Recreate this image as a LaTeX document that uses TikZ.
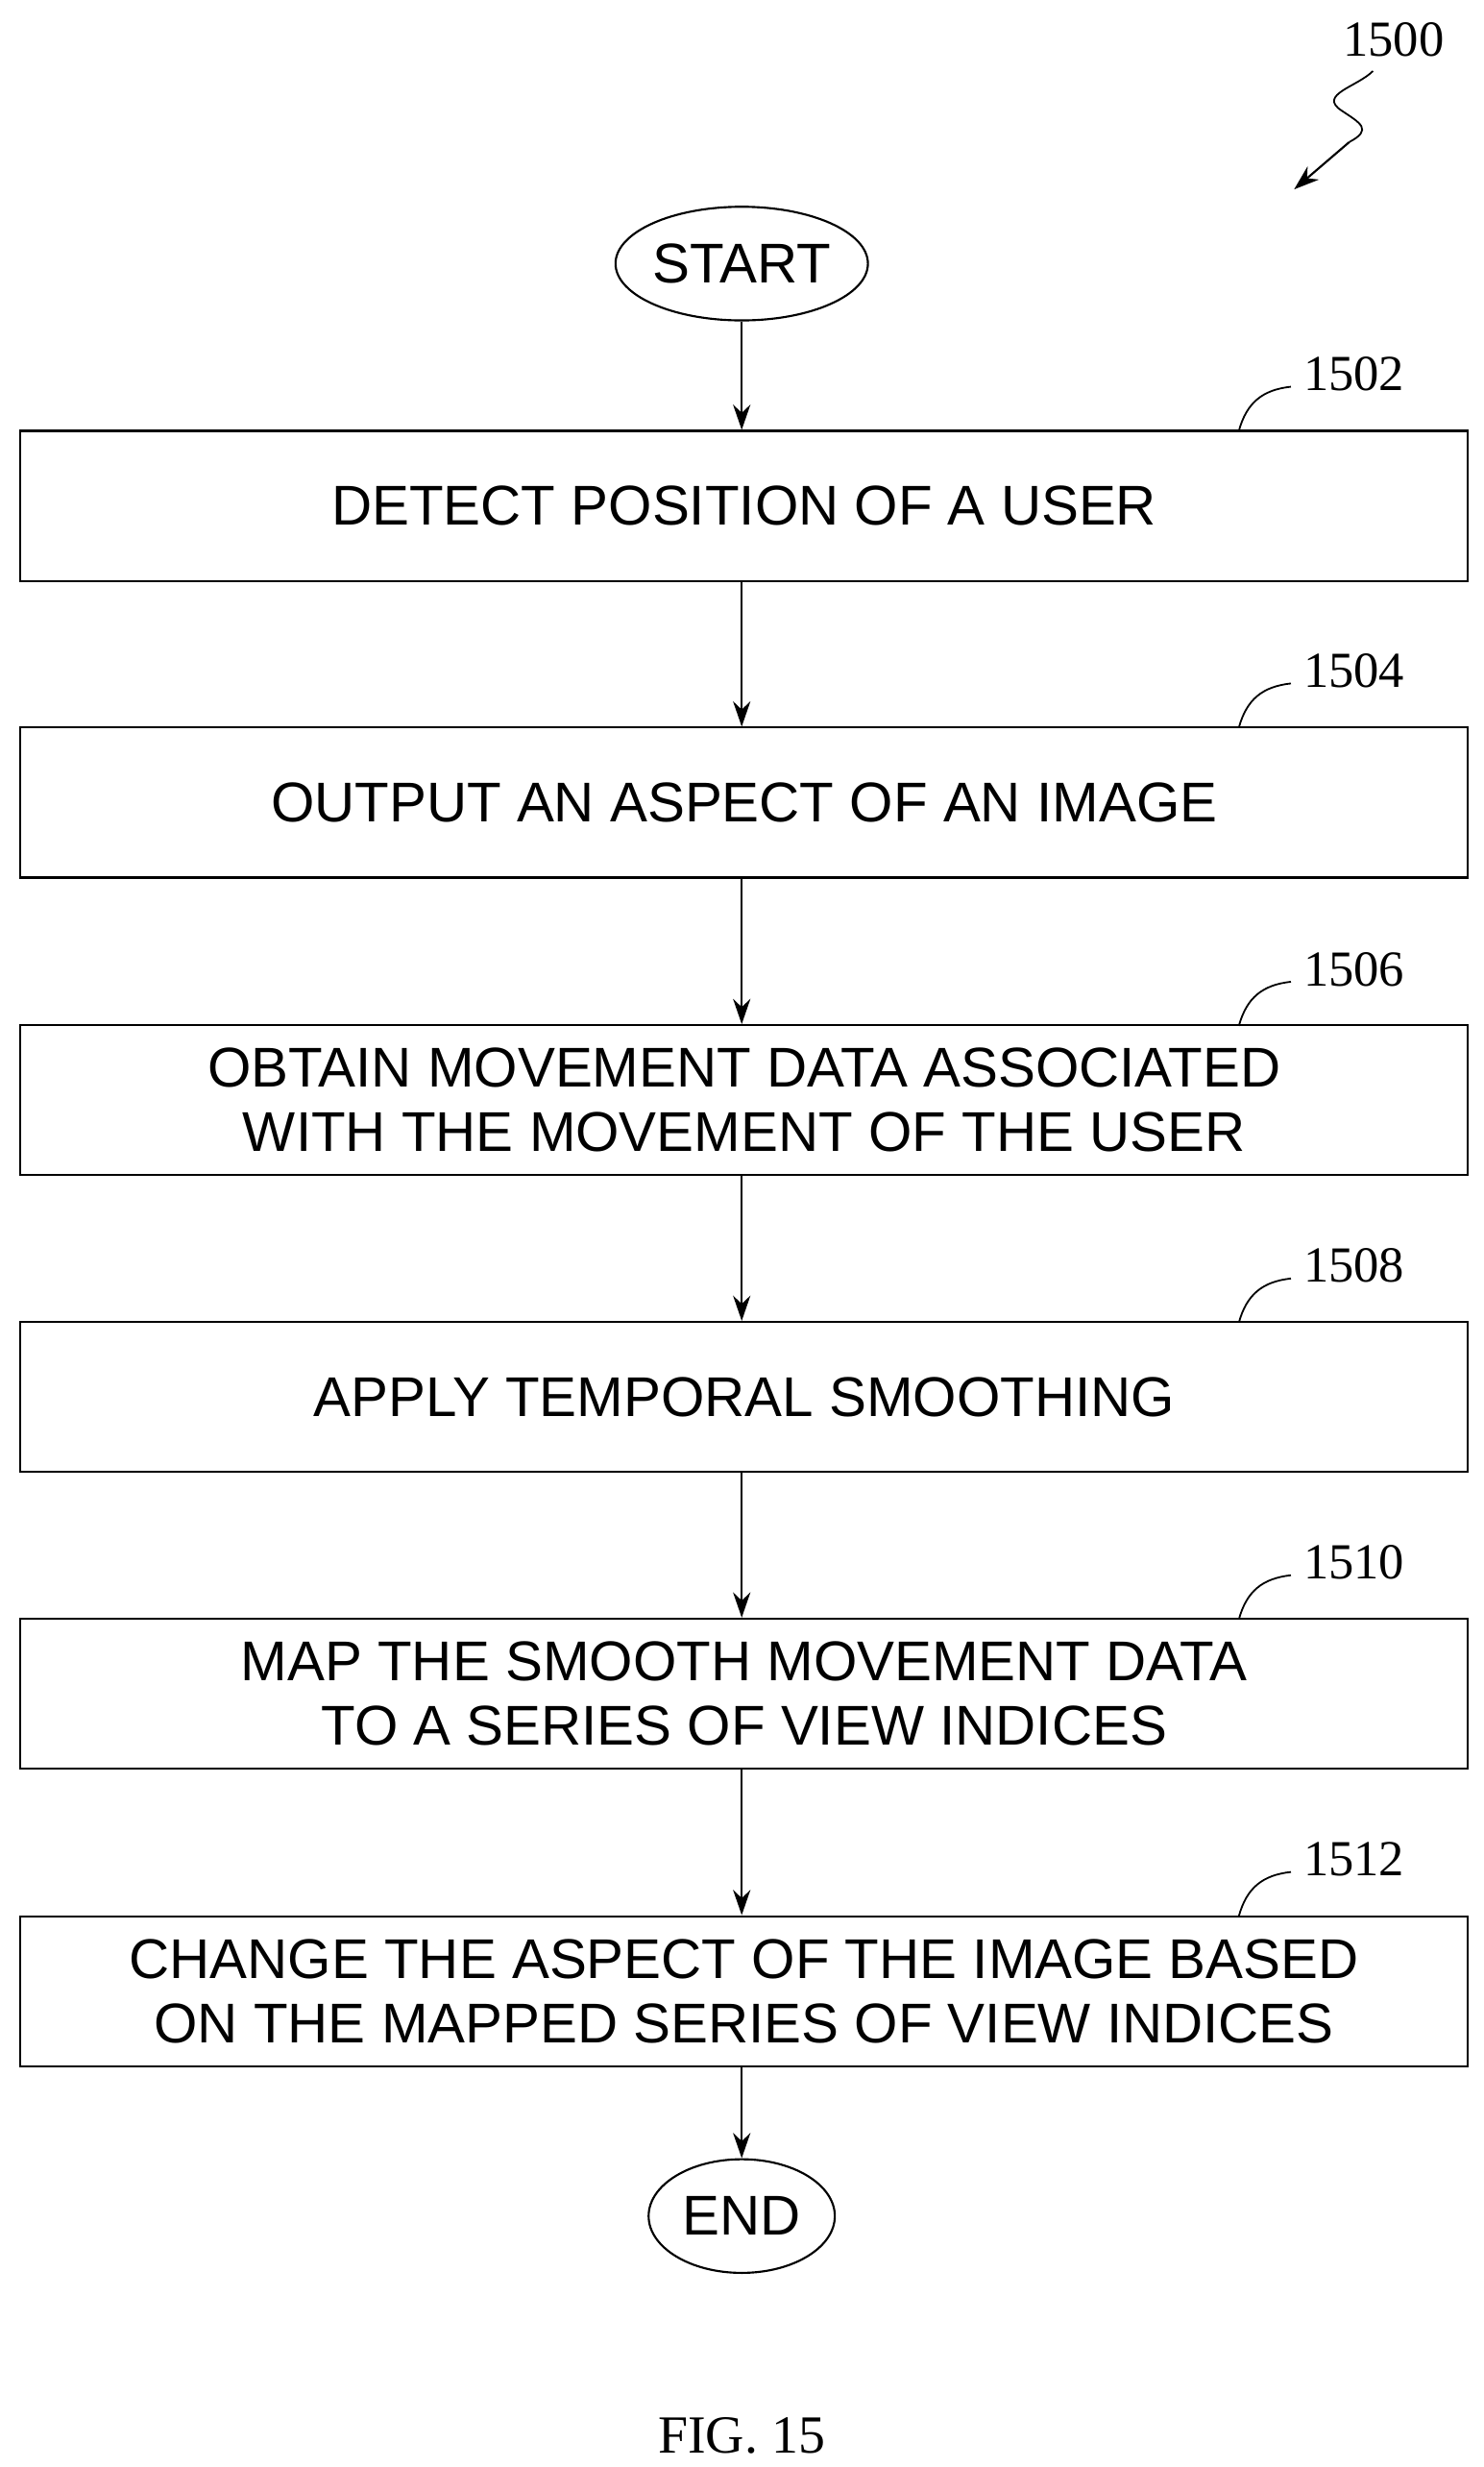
\documentclass[tikz,border=0pt]{standalone}
\usepackage{fontspec}
\setmainfont{Liberation Sans}
\newfontfamily\serifx{Liberation Serif}
\usetikzlibrary{arrows.meta,shapes.geometric}
\begin{document}
\begin{tikzpicture}[x=1pt,y=-1pt,
  box/.style={draw,line width=1.3pt,minimum width=917pt,minimum height=95pt,align=center,font=\fontsize{35.5}{41}\selectfont,inner sep=0pt},
  term/.style={draw,ellipse,line width=1.3pt,minimum width=118pt,minimum height=72pt,font=\fontsize{35.5}{41}\selectfont,inner sep=0pt},
  arr/.style={-{Stealth[length=16pt,width=11pt]},line width=1.3pt},
  ref/.style={font=\serifx\fontsize{32}{38}\selectfont},
  lead/.style={line width=1.1pt}]
\useasboundingbox (0,0) rectangle (940,1563);
\node[term] (start) at (470,167) {START};
\node[box] (b1) at (471.5,320.5) {DETECT POSITION OF A USER};
\node[box] (b2) at (471.5,508.5) {OUTPUT AN ASPECT OF AN IMAGE};
\node[box] (b3) at (471.5,697) {OBTAIN MOVEMENT DATA ASSOCIATED\\WITH THE MOVEMENT OF THE USER};
\node[box] (b4) at (471.5,885) {APPLY TEMPORAL SMOOTHING};
\node[box] (b5) at (471.5,1073) {MAP THE SMOOTH MOVEMENT DATA\\TO A SERIES OF VIEW INDICES};
\node[box] (b6) at (471.5,1261.5) {CHANGE THE ASPECT OF THE IMAGE BASED\\ON THE MAPPED SERIES OF VIEW INDICES};
\node[term] (end) at (470,1404) {END};
\foreach \a/\b in {start/b1,b1/b2,b2/b3,b3/b4,b4/b5,b5/b6,b6/end}
  \draw[arr] (\a.south -| 470,0) -- (\b.north -| 470,0);
\foreach \n/\l/\y in {b1/1502/273,b2/1504/461,b3/1506/650,b4/1508/838,b5/1510/1026,b6/1512/1214}{
  \node[ref] (l\l) at (858,\y-36) {\l};
  \draw[lead] (785,\y) .. controls (790,\y-18) and (800,\y-26) .. (818,\y-28);
}
\node[ref] (l1500) at (883,25) {1500};
\coordinate (t1500) at (820,120);
\draw[lead] (870,45) .. controls (860,55) and (835,60) .. (850,70) .. controls (862,78) and (870,82) .. (855,90);
\draw[arr] (855,90) -- (t1500);
\node[font=\serifx\fontsize{34}{40}\selectfont] (fig) at (470,1543) {FIG. 15};
\end{tikzpicture}
\end{document}
